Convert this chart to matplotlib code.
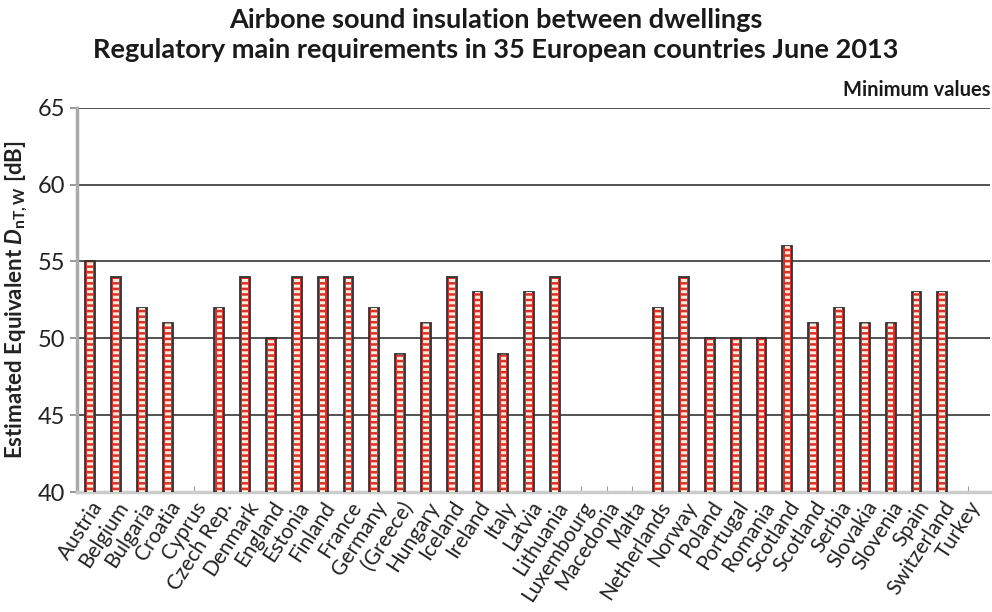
import numpy as np
import matplotlib.pyplot as plt

countries = ['Austria', 'Belgium', 'Bulgaria', 'Croatia', 'Cyprus', 'Czech Rep.', 'Denmark',
             'England', 'Estonia', 'Finland', 'France', 'Germany', '(Greece)', 'Hungary',
             'Iceland', 'Ireland', 'Italy', 'Latvia', 'Lithuania', 'Luxembourg', 'Macedonia',
             'Malta', 'Netherlands', 'Norway', 'Poland', 'Portugal', 'Romania', 'Scotland',
             'Scotland', 'Serbia', 'Slovakia', 'Slovenia', 'Spain', 'Switzerland', 'Turkey']
# nan = no requirement shown
values = [55, 54, 52, 51, np.nan, 52, 54,
          50, 54, 54, 54, 52, 49, 51,
          54, 53, 49, 53, 54, np.nan, np.nan,
          np.nan, 52, 54, 50, 50, 50, 56,
          51, 52, 51, 51, 53, 53, np.nan]

plt.rcParams['font.family'] = ['Lato', 'DejaVu Sans']
plt.rcParams['mathtext.fontset'] = 'custom'
plt.rcParams['mathtext.it'] = 'Lato:italic:bold'
plt.rcParams['mathtext.rm'] = 'Lato:bold'
plt.rcParams['hatch.linewidth'] = 2.2

fig = plt.figure(figsize=(9.92, 6.12), dpi=100)
ax = fig.add_axes([0.078, 0.196, 0.92, 0.628])

x = np.arange(len(countries))
vals = np.array(values, dtype=float)
bottom = 40
heights = np.where(np.isnan(vals), 0, vals - bottom)
mask = ~np.isnan(vals)

ax.bar(x[mask], heights[mask], width=0.38, bottom=bottom, color='#d9302c',
       edgecolor='#333333', linewidth=1.3, zorder=3)
ax.bar(x[mask], heights[mask], width=0.22, bottom=bottom, color='none',
       edgecolor='#fbeedd', linewidth=0, hatch='---', zorder=4)

ax.set_xlim(-0.5, 34.85)
ax.set_ylim(40, 65)
ax.set_yticks([40, 45, 50, 55, 60, 65])
ax.yaxis.grid(True, color='#444444', linewidth=1.3, zorder=1)
ax.set_axisbelow(True)

ax.set_xticks(x)
ax.set_xticklabels(countries, rotation=57, ha='right', rotation_mode='anchor',
                   fontsize=15, color='#222222')
ax.tick_params(axis='y', labelsize=17, length=5, color='#888888', width=1.2,
               labelcolor='#222222')
ax.tick_params(axis='x', length=4, color='#999999', direction='in', pad=4)

for s in ['top', 'right']:
    ax.spines[s].set_visible(False)
ax.spines['left'].set_color('#aaaaaa')
ax.spines['left'].set_linewidth(2.5)
ax.spines['bottom'].set_color('#cccccc')
ax.spines['bottom'].set_linewidth(2.5)

ax.set_ylabel(r'Estimated Equivalent $D_{\mathrm{nT,W}}$ [dB]', fontsize=16,
              fontweight='bold', labelpad=6, color='#222222')

fig.text(0.5, 0.968, 'Airbone sound insulation between dwellings', ha='center', va='center',
         fontsize=19.5, fontweight='bold', color='#1a1a1a')
fig.text(0.5, 0.918, 'Regulatory main requirements in 35 European countries June 2013',
         ha='center', va='center', fontsize=19.5, fontweight='bold', color='#1a1a1a')
fig.text(0.998, 0.853, 'Minimum values', ha='right', va='center', fontsize=14.5,
         fontweight='bold', color='#1a1a1a')

fig.savefig('out.png', dpi=100)
